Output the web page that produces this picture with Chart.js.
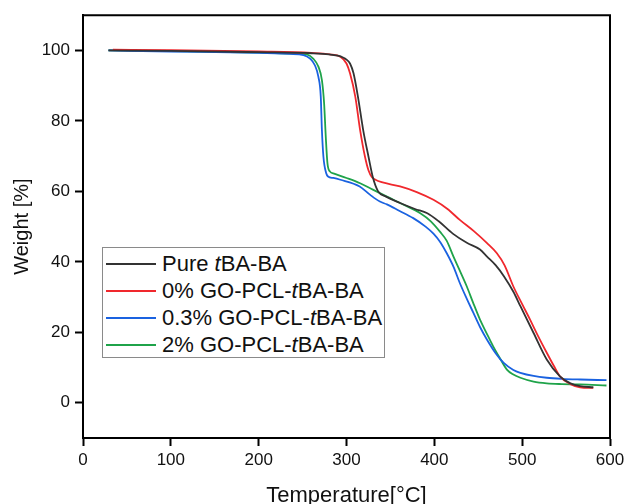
<!DOCTYPE html>
<html>
<head>
<meta charset="utf-8">
<script src="https://cdn.jsdelivr.net/npm/chart.js@4.4.1/dist/chart.umd.min.js"></script>
<style>
  html, body { margin: 0; padding: 0; background: #fff; }
  #wrap { position: relative; width: 629px; height: 504px; }
  #legend {
    position: absolute; left: 102px; top: 247px; width: 283px; height: 111px;
    border: 1px solid #8a8a8a; background: #fff; box-sizing: border-box;
    font-family: "Liberation Sans", Arial, sans-serif; font-size: 22px; color: #111;
    padding-top: 2px;
  }
  #legend .row { display: flex; align-items: center; height: 27px; white-space: nowrap; }
  #legend .swatch { display: inline-block; width: 50px; height: 2px; margin-left: 3px; margin-right: 6px; }
</style>
</head>
<body>
<div id="wrap">
  <canvas id="tga" width="629" height="504"></canvas>
  <div id="legend">
    <div class="row"><span class="swatch" style="background:#333333"></span><span>Pure <i>t</i>BA-BA</span></div>
    <div class="row"><span class="swatch" style="background:#f0282d"></span><span>0% GO-PCL-<i>t</i>BA-BA</span></div>
    <div class="row"><span class="swatch" style="background:#1a62e0"></span><span>0.3% GO-PCL-<i>t</i>BA-BA</span></div>
    <div class="row"><span class="swatch" style="background:#1fa34a"></span><span>2% GO-PCL-<i>t</i>BA-BA</span></div>
  </div>
</div>
<script>
// TGA curves
const pureT = [29, 100, 200, 260, 280, 290, 296, 300, 304, 308, 313, 319, 325, 330, 336, 345, 361, 378, 392, 405, 421, 437, 452, 460, 470, 479, 490, 498, 513, 528, 543, 555, 566, 581];
const pureW = [100, 99.9, 99.5, 99.2, 98.9, 98.5, 98, 97.4, 96.3, 93.5, 86.9, 77.4, 69.9, 64, 60, 58.5, 56.7, 55, 53.8, 51.5, 48, 45.4, 43.5, 41.5, 39, 36, 31.5, 27.4, 19.8, 12.3, 7.5, 5.5, 4.7, 4.4];

const go0T = [34, 100, 200, 260, 281, 293, 300, 304, 310, 315.5, 321, 325, 329, 333, 340, 361, 380, 399, 415, 429, 445, 460, 471, 480, 490, 500, 509, 518, 528, 536, 543, 555, 566, 581];
const go0W = [100.2, 100.1, 99.7, 99.3, 98.9, 98.2, 96.3, 93.5, 86.9, 77.4, 69.9, 66, 64, 63.3, 62.6, 61.4, 59.8, 57.6, 55, 51.9, 48.7, 45.3, 42.5, 39, 33, 28, 23.6, 19, 14.2, 10.5, 7.5, 5.3, 4.4, 4.2];

const go03T = [29, 100, 200, 236, 251, 258.5, 264, 268, 270.7, 272, 273.7, 276.8, 279, 285, 293, 315, 327, 338, 346, 360, 376, 390, 399, 407, 414, 422, 429, 437, 444.5, 452, 460, 470, 479, 490, 498, 513, 528, 545, 566, 596];
const go03W = [100, 99.7, 99.3, 99.0, 98.7, 97.7, 95.8, 92.5, 86.9, 77.4, 69.9, 65.2, 64.2, 63.8, 63.3, 61.4, 59, 57.1, 56.3, 54.5, 52.4, 50, 48, 45.5, 42.5, 38.5, 34, 29.5, 25.5, 21.5, 17.9, 14, 11.3, 9.3, 8.5, 7.6, 7.1, 6.8, 6.6, 6.4];

const go2T = [29, 100, 200, 240, 254.8, 262, 268, 272, 274.5, 276.4, 278.3, 281.3, 285, 300, 315.5, 330, 346, 365, 384, 396, 406.6, 414, 421.8, 429, 437, 444, 452, 460, 467, 475, 482.6, 490, 498, 513, 528, 545, 566, 596];
const go2W = [100, 99.8, 99.4, 99.1, 98.9, 97.7, 95.4, 91.6, 85, 75.5, 68, 65.6, 65.1, 63.8, 62.3, 60.5, 58.5, 56.2, 53.8, 51.5, 48.5, 46, 41.5, 37.5, 33, 28.5, 23.6, 19.5, 16, 12.5, 9.4, 8, 7.1, 6, 5.5, 5.3, 5.2, 4.9];

const xTicks = [0, 100, 200, 300, 400, 500, 600];
const yTicks = [0, 20, 40, 60, 80, 100];

const fontFam = '"Liberation Sans", Arial, sans-serif';

function pts(t, w) { return t.map((v, i) => ({ x: v, y: w[i] })); }

function series(label, t, w, color) {
  return {
    label: label,
    data: pts(t, w),
    borderColor: color,
    backgroundColor: color,
    borderWidth: 1.8,
    pointRadius: 0,
    cubicInterpolationMode: 'monotone',
    fill: false
  };
}

// frame around the plot (top + right sides)
const frame = {
  id: 'frame',
  afterDatasetsDraw(chart) {
    const a = chart.chartArea, ctx = chart.ctx;
    ctx.save();
    ctx.strokeStyle = '#000';
    ctx.lineWidth = 2;
    ctx.beginPath();
    ctx.moveTo(a.left, a.top);
    ctx.lineTo(a.right, a.top);
    ctx.lineTo(a.right, a.bottom);
    ctx.stroke();
    ctx.restore();
  }
};

const ctx = document.getElementById('tga').getContext('2d');
const chart = new Chart(ctx, {
  type: 'line',
  data: {
    datasets: [
      series('Pure tBA-BA', pureT, pureW, '#333333'),
      series('0% GO-PCL-tBA-BA', go0T, go0W, '#f0282d'),
      series('0.3% GO-PCL-tBA-BA', go03T, go03W, '#1a62e0'),
      series('2% GO-PCL-tBA-BA', go2T, go2W, '#1fa34a')
    ]
  },
  plugins: [frame],
  options: {
    responsive: false,
    animation: false,
    layout: { padding: { top: 14, right: 19, left: 0, bottom: 0 } },
    plugins: { legend: { display: false }, tooltip: { enabled: false } },
    scales: {
      x: {
        type: 'linear', min: 0, max: 600,
        afterBuildTicks: s => { s.ticks = xTicks.map(v => ({ value: v })); },
        afterFit: s => { s.height = 66; },
        grid: { drawOnChartArea: false, drawTicks: true, tickLength: 8, tickWidth: 2, tickColor: '#000' },
        border: { display: true, color: '#000', width: 2 },
        ticks: { color: '#111', padding: 4, font: { family: fontFam, size: 17 } },
        title: { display: true, text: 'Temperature[°C]', color: '#111', padding: { top: 0, bottom: 1 }, font: { family: fontFam, size: 22, lineHeight: 0.6 } }
      },
      y: {
        type: 'linear', min: -10, max: 110,
        afterBuildTicks: s => { s.ticks = yTicks.map(v => ({ value: v })); },
        afterFit: s => { s.width = 83; },
        grid: { drawOnChartArea: false, drawTicks: true, tickLength: 8, tickWidth: 2, tickColor: '#000' },
        border: { display: true, color: '#000', width: 2 },
        ticks: { color: '#111', padding: 5, font: { family: fontFam, size: 17 } },
        title: { display: true, text: 'Weight [%]', color: '#111', padding: { top: 10, bottom: 0 }, font: { family: fontFam, size: 20 } }
      }
    }
  }
});
</script>
</body>
</html>
